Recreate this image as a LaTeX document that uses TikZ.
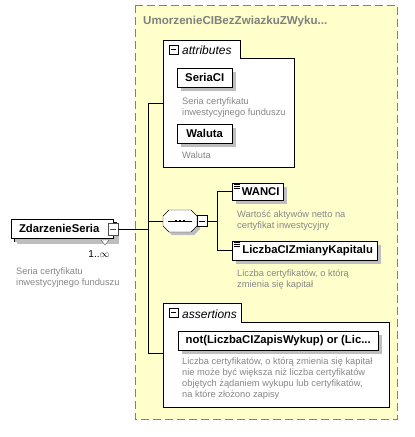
\documentclass[tikz,border=0pt]{standalone}
\usepackage{fontspec}
\setmainfont{Liberation Sans}
\usetikzlibrary{positioning,shadows}

\definecolor{grpfill}{RGB}{255,255,204}
\definecolor{dashgray}{RGB}{128,128,128}
\definecolor{desctext}{RGB}{135,135,135}
\definecolor{shadowgray}{RGB}{190,190,190}

\tikzset{
  elem/.style={draw=black, fill=white, inner sep=0pt,
    font=\bfseries\fontsize{11.3}{13}\selectfont,
    drop shadow={shadow xshift=4pt, shadow yshift=-4pt, fill=shadowgray, opacity=1}},
  desc/.style={anchor=base west, align=left, inner sep=0pt, text=desctext,
    font=\fontsize{9.3}{10.8}\selectfont},
  grpbox/.style={draw=black, fill=white, inner sep=0pt, anchor=north west},
  minusbox/.style={draw=black, fill=white, minimum size=9pt, inner sep=0pt,
    path picture={\draw ([xshift=2pt]path picture bounding box.west)
      -- ([xshift=-2pt]path picture bounding box.east);}},
  conn/.style={draw=black, line width=0.8pt},
}

\begin{document}
\begin{tikzpicture}[x=1pt, y=-1pt]
  \useasboundingbox (0,0) rectangle (415,437);

  % Complex type group
  \draw[dashgray, fill=grpfill, dash pattern=on 8pt off 4pt] (135,5) rectangle (397,419);
  \node[anchor=base west, inner sep=0pt, text=dashgray, font=\bfseries\fontsize{11.6}{13}\selectfont]
    (title) at (143,24) {UmorzenieCIBezZwiazkuZWyku...};

  % Attributes
  \node[grpbox, minimum width=77, minimum height=18] (attrtab) at (163,40) {};
  \node[grpbox, minimum width=131, minimum height=109] (attr) at (163,58) {};
  \fill[white] (163.5,57) rectangle (239.5,59);
  \node[minusbox, anchor=west] (attrminus) at (169,49.5) {};
  \node[anchor=base west, inner sep=0pt, font=\itshape\fontsize{12}{14}\selectfont]
    (attrlabel) at (182,54) {attributes};
  \node[elem, minimum width=55, minimum height=19, anchor=north west] (seriaci) at (177,68) {SeriaCI};
  \node[desc] (seriacidesc) at (182,115) {Seria certyfikatu\\inwestycyjnego funduszu};
  \node[elem, minimum width=55, minimum height=19, anchor=north west] (waluta) at (177,124) {Waluta};
  \node[desc] (walutadesc) at (182,158) {Waluta};

  % Sequence
  \node[minimum width=34, minimum height=22, inner sep=0pt] (seq) at (180,221) {};
  \fill[shadowgray, shift={(183,224)}]
    (-17,-5) -- (-11,-11) -- (11,-11) -- (17,-5) -- (17,5) -- (11,11) -- (-11,11) -- (-17,5) -- cycle;
  \draw[black, fill=white, shift={(seq)}]
    (-17,-5) -- (-11,-11) -- (11,-11) -- (17,-5) -- (17,5) -- (11,11) -- (-11,11) -- (-17,5) -- cycle;
  \draw[black, line width=0.8pt] ([xshift=5pt]seq.west) -- ([xshift=-5pt]seq.east);
  \foreach \dx in {-4,0,4}
    \fill[black] ([xshift=\dx pt]seq.center) +(-1.4,-1.4) rectangle +(1.4,1.4);
  \node[minusbox, anchor=west, minimum width=10pt, minimum height=11pt] (seqminus) at (seq.east) {};

  \node[elem, minimum width=51, minimum height=17, anchor=north west] (wanci) at (232,183) {\hspace*{6pt}WANCI};
  \node[desc] (wancidesc) at (237,228) {Wartość aktywów netto na\\certyfikat inwestycyjny};
  \node[elem, minimum width=145, minimum height=19, anchor=north west] (liczba) at (232,241) {\hspace*{6pt}LiczbaCIZmianyKapitalu};
  \node[desc] (liczbadesc) at (237,287) {Liczba certyfikatów, o którą\\zmienia się kapitał};
  \foreach \nd in {wanci,liczba}
    \foreach \dy in {1.5,3.5,5.5}
      \draw[black, line width=0.6pt] ([xshift=2pt,yshift=-\dy pt]\nd.north west) -- ++(6,0);

  % Assertions
  \node[grpbox, minimum width=78, minimum height=19] (asserttab) at (163,303) {};
  \node[grpbox, minimum width=226, minimum height=85] (assert) at (163,322) {};
  \fill[white] (163.5,321) rectangle (240.5,323);
  \node[minusbox, anchor=west] (assertminus) at (169,312.5) {};
  \node[anchor=base west, inner sep=0pt, font=\itshape\fontsize{12}{14}\selectfont]
    (assertlabel) at (182,318) {assertions};
  \node[elem, minimum width=200, minimum height=19, anchor=north west] (rule) at (178,331)
    {not(LiczbaCIZapisWykup) or (Lic...};
  \node[desc] (ruledesc) at (182,397) {Liczba certyfikatów, o którą zmienia się kapitał\\
    nie może być większa niż liczba certyfikatów\\
    objętych żądaniem wykupu lub certyfikatów,\\na które złożono zapisy};

  % Element
  \fill[shadowgray] (17,225) rectangle (119,244);
  \draw[black, fill=white] (14,222) rectangle (116,241);
  \node[elem, drop shadow={opacity=0}, minimum width=102, minimum height=19, anchor=north west]
    (zs) at (11,219) {ZdarzenieSeria\hspace*{6pt}};
  \node[minusbox, draw=black!70, minimum width=10pt, minimum height=12pt] (zsminus) at (113,229.5) {};
  \draw[black!60, fill=white] (101,240) -- (109,240) -- (105,245) -- cycle;
  \node[anchor=base, inner sep=0pt, font=\fontsize{10}{12}\selectfont] (zsocc) at (99,257) {1..$\infty$};
  \node[desc] (zsdesc) at (16,285) {Seria certyfikatu\\inwestycyjnego funduszu};

  % Connectors
  \coordinate (spineT) at (148,103);
  \coordinate (spineB) at (148,353);
  \draw[conn] (attr.west |- spineT) -- (spineT) -- (spineB) -- (assert.west |- spineB);
  \draw[conn] (zsminus.east) -- (zsminus.east -| spineT);
  \draw[conn] (spineT |- seq.west) -- (seq.west);
  \draw[conn] (seqminus.east) -- ++(10,0) coordinate (fork);
  \draw[conn] (wanci.west) -| (fork) |- (liczba.west);
\end{tikzpicture}
\end{document}
